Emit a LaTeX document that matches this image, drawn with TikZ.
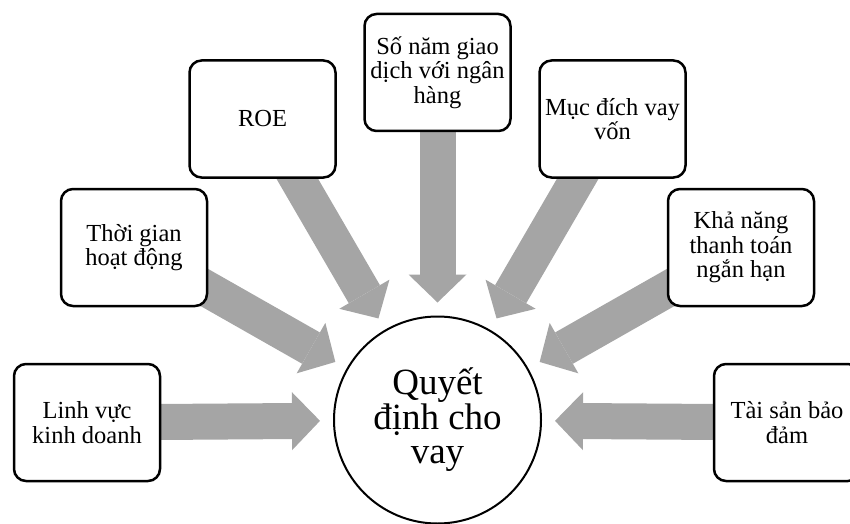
\documentclass[tikz,border=0pt]{standalone}
\usepackage{fontspec}
\setmainfont{Liberation Serif}
\usetikzlibrary{arrows.meta,backgrounds}
\definecolor{arrgray}{RGB}{165,165,165}
\begin{document}
\begin{tikzpicture}[x=1pt,y=1pt,
  box/.style={draw, line width=2.5pt, rounded corners=12pt, fill=white,
    minimum width=146pt, minimum height=117pt, align=center, inner sep=0pt,
    font=\fontsize{24.5}{24.5}\selectfont},
  hub/.style={draw, circle, line width=2pt, fill=white, minimum size=207pt,
    inner sep=0pt, align=center, font=\fontsize{37}{34.5}\selectfont},
  flow/.style={arrgray, line width=36pt,
    -{Triangle[width=58pt,length=28pt,line width=0pt]},
    shorten <=20pt, shorten >=117.5pt}]
\useasboundingbox (0,0) rectangle (850,523);
\node[hub] (c) at (437.5,103) {Quyết\\định cho\\vay};
\node[box] (b1) at (87,100.5) {Linh vực\\kinh doanh};
\node[box] (b2) at (134,275.5) {Thời gian\\hoạt động};
\node[box] (b3) at (262.5,404) {ROE};
\node[box] (b4) at (437.5,450.5) {Số năm giao\\dịch với ngân\\hàng};
\node[box] (b5) at (612.5,404) {Mục đích vay\\vốn};
\node[box] (b6) at (741,275.5) {Khả năng\\thanh toán\\ngắn hạn};
\node[box] (b7) at (787,100.5) {Tài sản bảo\\đảm};
\begin{scope}[on background layer]
\foreach \b in {b1,b2,b3,b4,b5,b6,b7}
  \draw[flow] (\b.center) -- (c.center);
\end{scope}
\end{tikzpicture}
\end{document}
